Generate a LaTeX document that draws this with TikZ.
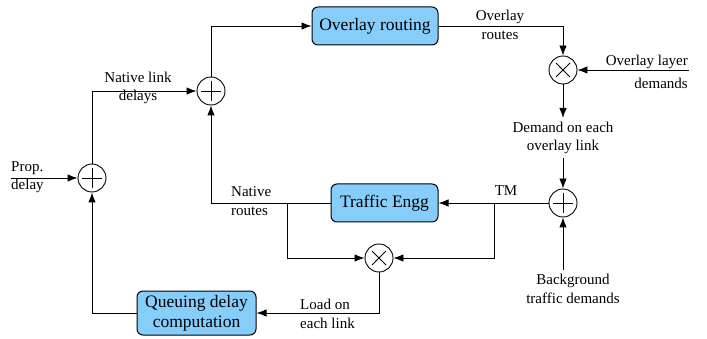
\documentclass[tikz,border=0pt]{standalone}
\usepackage{fontspec}
\setmainfont{Liberation Serif}
\usetikzlibrary{arrows.meta}
\definecolor{boxblue}{RGB}{135,205,250}
\tikzset{
  every picture/.style={x=1pt,y=-1pt},
  blk/.style={draw, fill=boxblue, rounded corners=6pt, line width=1pt, align=center, inner sep=0pt,
    font=\fontsize{17.5}{20}\selectfont},
  summer/.style={circle, draw, fill=white, minimum size=28pt, inner sep=0pt, line width=0.9pt,
    path picture={\draw[line width=0.8pt] (path picture bounding box.center) +(-10pt,0) -- +(10pt,0) +(0,-10pt) -- +(0,10pt);}},
  mult/.style={circle, draw, fill=white, minimum size=28pt, inner sep=0pt, line width=0.9pt,
    path picture={\draw[line width=0.8pt] (path picture bounding box.center) +(-7pt,-7pt) -- +(7pt,7pt) +(-7pt,7pt) -- +(7pt,-7pt);}},
  lbl/.style={font=\fontsize{15}{18.5}\selectfont, inner sep=0pt},
  conn/.style={line width=0.9pt},
  arr/.style={line width=0.9pt, -{Latex[length=10pt,width=7.5pt]}},
}
\begin{document}
\begin{tikzpicture}
\useasboundingbox (0,0) rectangle (707,339);
% nodes
\node[summer] (s1) at (92,178) {};
\node[summer] (s2) at (211,91) {};
\node[mult] (m1) at (563,70) {};
\node[summer] (s3) at (563,203) {};
\node[mult] (m2) at (379,258) {};
\node[blk, minimum width=126pt, minimum height=38pt] (or) at (375,26) {Overlay routing};
\node[blk, minimum width=107pt, minimum height=38pt] (te) at (384.5,203) {Traffic Engg};
\node[blk, minimum width=119pt, minimum height=44pt] (qd) at (196.5,313) {Queuing delay\\computation};
% free ends and junctions
\coordinate (pd) at (11,178);
\coordinate (od) at (689,70);
\coordinate (dtop) at (563,118);
\coordinate (dbot) at (563,158);
\coordinate (bg) at (563,270);
\coordinate (tmj) at (494,203);
\coordinate (nrj) at (287,203);
% connectors
\draw[arr] (pd) -- (s1.west);
\draw[arr] (s1.north) |- (s2.west);
\draw[arr] (s2.north) |- (or.west);
\draw[arr] (or.east) -| (m1.north);
\draw[arr] (od) -- (m1.east);
\draw[arr] (m1.south) -- (dtop);
\draw[arr] (dbot) -- (s3.north);
\draw[arr] (bg) -- (s3.south);
\draw[arr] (s3.west) -- (te.east);
\draw[arr] (tmj) |- (m2.east);
\draw[arr] (te.west) -| (s2.south);
\draw[arr] (nrj) |- (m2.west);
\draw[arr] (m2.south) |- (qd.east);
\draw[arr] (qd.west) -| (s1.south);
% labels
\node[lbl, anchor=west, align=left] (lpd) at (11,177) {Prop.\\delay};
\node[lbl, align=center] (lnld) at (138,88) {Native link\\delays};
\node[lbl, align=center] (lor) at (500,25) {Overlay\\routes};
\node[lbl, anchor=east, align=right] (lold) at (688,72) {Overlay layer\\[5pt]demands};
\node[lbl, align=center] (ldem) at (563,138) {Demand on each\\overlay link};
\node[lbl, align=center] (lbg) at (573,289) {Background\\traffic demands};
\node[lbl] (ltm) at (506,191) {TM};
\node[lbl, anchor=west, align=left] (lnr) at (231,201) {Native\\routes};
\node[lbl, anchor=west, align=left] (lload) at (300,314) {Load on\\each link};
\end{tikzpicture}
\end{document}
